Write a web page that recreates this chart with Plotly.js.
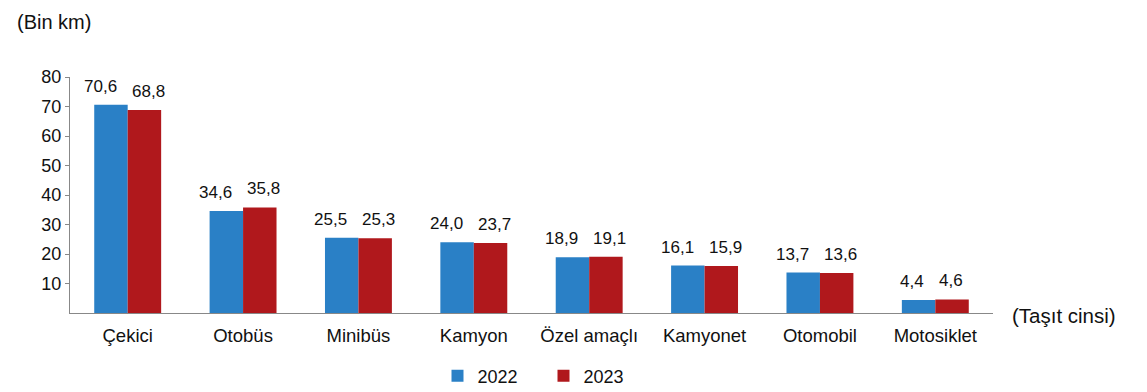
<!DOCTYPE html>
<html><head><meta charset="utf-8">
<script src="https://cdn.plot.ly/plotly-3.0.1.min.js"></script>
<style>body{margin:0;background:#fff}#c{width:1147px;height:392px}</style>
</head><body><div id="c"></div>
<script>
var categories = ["Çekici","Otobüs","Minibüs","Kamyon","Özel amaçlı","Kamyonet","Otomobil","Motosiklet"];
var values2022 = [70.6,34.6,25.5,24.0,18.9,16.1,13.7,4.4];
var values2023 = [68.8,35.8,25.3,23.7,19.1,15.9,13.6,4.6];
var yTicks = [10,20,30,40,50,60,70,80];

var font = "Liberation Sans, Arial, sans-serif";
function fmt(v){ return v.toFixed(1).replace('.', ','); }
function trace(name, vals, color){
  return {type:'bar', name:name, x:categories, y:vals, marker:{color:color}, hoverinfo:'none'};
}
var data = [trace('2022', values2022, '#2a80c6'), trace('2023', values2023, '#b0181c')];

var labelFont = {family:font, size:17, color:'#111'};
var annotations = [];
categories.forEach(function(c, i){
  annotations.push({x:c, y:values2022[i], xref:'x', yref:'y', text:fmt(values2022[i]),
    xanchor:'right', yanchor:'bottom', xshift:-9, yshift:7, showarrow:false, font:labelFont});
  annotations.push({x:c, y:values2023[i], xref:'x', yref:'y', text:fmt(values2023[i]),
    xanchor:'left', yanchor:'bottom', xshift:2, yshift:7, showarrow:false, font:labelFont});
});
annotations.push({text:'(Bin km)', xref:'paper', yref:'paper', x:-0.0596, xanchor:'left', y:1.233, yanchor:'middle', showarrow:false, font:{size:20}});
annotations.push({text:'(Taşıt cinsi)', xref:'paper', yref:'paper', x:1.018, xanchor:'left', y:-0.01, yanchor:'middle', showarrow:false, font:{size:20.5}});

var layout = {
  width:1147, height:392, separators:', ',
  margin:{l:70,r:154,t:77,b:79,autoexpand:false},
  paper_bgcolor:'#fff', plot_bgcolor:'#fff',
  font:{family:font,size:18,color:'#111'},
  bargap:0.42, bargroupgap:0,
  showlegend:true,
  legend:{orientation:'h', x:0.513, xanchor:'center', y:-0.267, yanchor:'middle',
    font:{family:font,size:18,color:'#111'}, entrywidth:61, entrywidthmode:'pixels'},
  xaxis:{showline:true, linecolor:'#888', linewidth:1, ticks:'outside', ticklen:6,
    tickcolor:'rgba(0,0,0,0)', tickfont:{size:18.5}, showgrid:false, zeroline:false},
  yaxis:{range:[0,80], tickvals:yTicks, ticktext:yTicks.map(String), showline:true,
    linecolor:'#888', ticks:'outside', ticklen:4, tickcolor:'#888', showgrid:false,
    zeroline:false, tickfont:{size:18}},
  annotations:annotations
};
Plotly.newPlot('c', data, layout, {displayModeBar:false, staticPlot:true});
</script></body></html>
